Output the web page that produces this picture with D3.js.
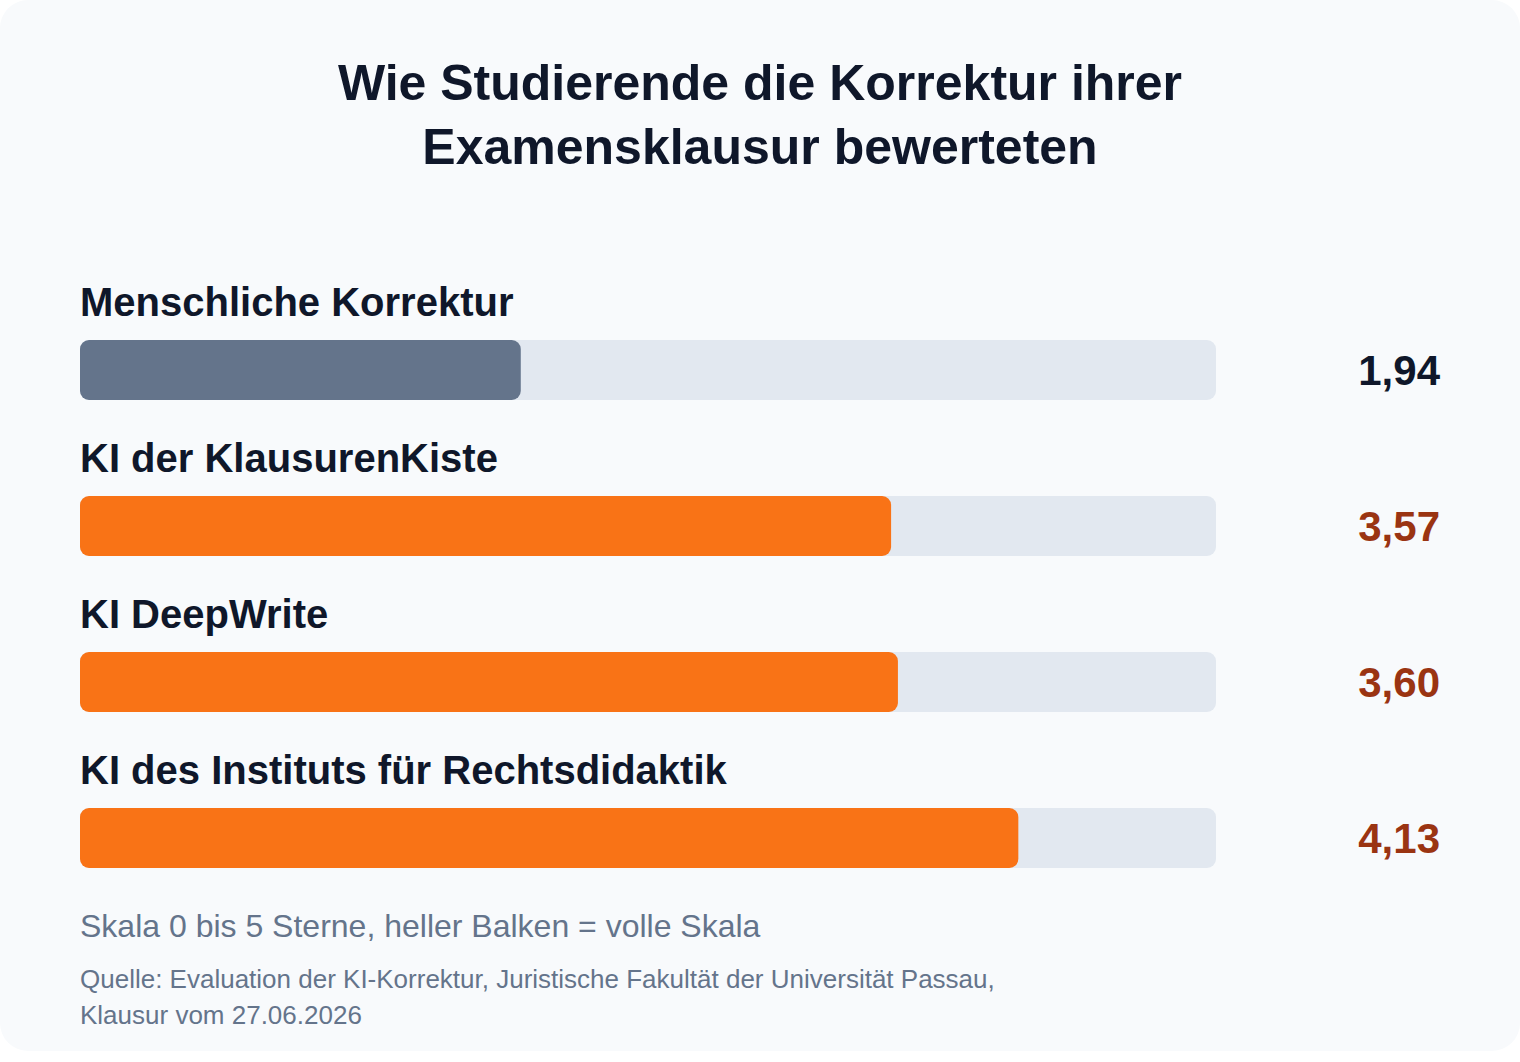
<!DOCTYPE html>
<html lang="de">
<head>
<meta charset="utf-8">
<script src="https://cdn.jsdelivr.net/npm/d3@7"></script>
<style>
  html, body { margin: 0; padding: 0; background: #ffffff; }
  svg { display: block; font-family: "Liberation Sans", Arial, Helvetica, sans-serif; }
</style>
</head>
<body>
<svg id="chart"></svg>
<script>
// Data
const categories = [
    "Menschliche Korrektur",
    "KI der KlausurenKiste",
    "KI DeepWrite",
    "KI des Instituts für Rechtsdidaktik"
];
const ratings = [1.94, 3.57, 3.60, 4.13];
const isHuman = [true, false, false, false];
const scaleMax = 5;
const titleLines = ["Wie Studierende die Korrektur ihrer", "Examensklausur bewerteten"];
const noteText = "Skala 0 bis 5 Sterne, heller Balken = volle Skala";
const sourceLines = [
    "Quelle: Evaluation der KI-Korrektur, Juristische Fakultät der Universität Passau,",
    "Klausur vom 27.06.2026"
];

// Dimensions
const width = 1520;
const height = 1062;
const margin = { left: 80, right: 304 };
const barHeight = 60;

const svg = d3.select("#chart")
    .attr("width", width)
    .attr("height", height);

// Card background
svg.append("rect")
    .attr("x", 0)
    .attr("y", 0)
    .attr("width", width)
    .attr("height", 1051)
    .attr("rx", 28)
    .style("fill", "#f8fafc");

// Title
svg.append("g")
    .selectAll("text")
    .data(titleLines)
    .enter()
    .append("text")
    .attr("x", width / 2)
    .attr("y", (d, i) => 100 + i * 64)
    .style("text-anchor", "middle")
    .style("font-size", "50px")
    .style("font-weight", "bold")
    .style("fill", "#0f172a")
    .text(d => d);

// Scales
const x = d3.scaleLinear()
    .domain([0, scaleMax])
    .range([margin.left, width - margin.right]);
const y = d3.scaleBand()
    .domain(categories)
    .range([262, 262 + categories.length * 156]);

const de = d3.formatLocale({ decimal: ",", thousands: ".", grouping: [3], currency: ["", " €"] });
const fmt = de.format(".2f");

const rows = svg.selectAll(".row")
    .data(categories.map((c, i) => ({ name: c, value: ratings[i], human: isHuman[i] })))
    .enter()
    .append("g")
    .attr("class", "row")
    .attr("transform", d => `translate(0,${y(d.name)})`);

// Category labels
rows.append("text")
    .attr("x", margin.left)
    .attr("y", 54)
    .style("font-size", "40px")
    .style("font-weight", "bold")
    .style("fill", "#0f172a")
    .text(d => d.name);

// Full-scale track
rows.append("rect")
    .attr("x", x(0))
    .attr("y", 78)
    .attr("width", x(scaleMax) - x(0))
    .attr("height", barHeight)
    .attr("rx", 9)
    .style("fill", "#e2e8f0");

// Value bar
rows.append("rect")
    .attr("x", x(0))
    .attr("y", 78)
    .attr("width", d => x(d.value) - x(0))
    .attr("height", barHeight)
    .attr("rx", 9)
    .style("fill", d => d.human ? "#64748b" : "#f97316");

// Value labels
rows.append("text")
    .attr("x", 1440)
    .attr("y", 78 + barHeight / 2)
    .attr("dy", "0.36em")
    .style("text-anchor", "end")
    .style("font-size", "42px")
    .style("font-weight", "bold")
    .style("fill", d => d.human ? "#0f172a" : "#9a3412")
    .text(d => fmt(d.value));

// Note
svg.append("text")
    .attr("x", margin.left)
    .attr("y", 937)
    .style("font-size", "32px")
    .style("fill", "#64748b")
    .text(noteText);

// Source
svg.append("g")
    .selectAll("text")
    .data(sourceLines)
    .enter()
    .append("text")
    .attr("x", margin.left)
    .attr("y", (d, i) => 988 + i * 36)
    .style("font-size", "26px")
    .style("fill", "#64748b")
    .text(d => d);
</script>
</body>
</html>
